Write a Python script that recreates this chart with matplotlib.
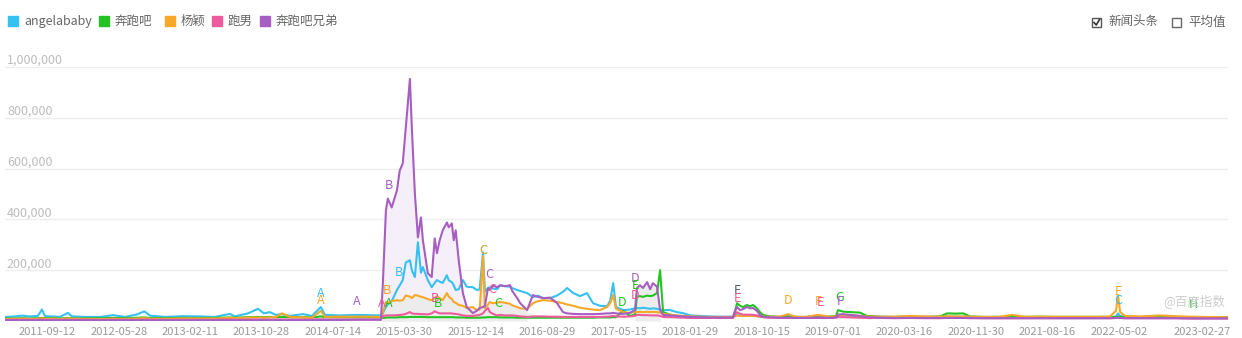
import matplotlib.pyplot as plt
from matplotlib.patches import Rectangle
from matplotlib.lines import Line2D
import numpy as np
import pandas as pd

plt.rcParams['font.family'] = ['Noto Sans CJK SC', 'DejaVu Sans']

# weekly-ish samples, values in thousands
dates = [
    '2011-04-12', '2011-05-18', '2011-06-12', '2011-07-11', '2011-08-09', '2011-08-24', '2011-09-04', '2011-09-29', '2011-10-28', '2011-11-26',
    '2011-12-11', '2012-01-28', '2012-03-22', '2012-05-08', '2012-06-21', '2012-08-03', '2012-08-29', '2012-09-19', '2012-11-13', '2013-01-13',
    '2013-03-19', '2013-05-12', '2013-07-05', '2013-07-23', '2013-09-09', '2013-10-15', '2013-11-06', '2013-11-27', '2013-12-19', '2014-01-10',
    '2014-02-08', '2014-03-27', '2014-04-29', '2014-05-31', '2014-06-15', '2014-08-08', '2014-10-09', '2014-11-25', '2015-01-04', '2015-01-11',
    '2015-01-22', '2015-01-29', '2015-02-12', '2015-03-03', '2015-03-13', '2015-03-24', '2015-04-04', '2015-04-19', '2015-04-26', '2015-05-07',
    '2015-05-18', '2015-05-29', '2015-06-05', '2015-06-23', '2015-07-07', '2015-07-18', '2015-07-26', '2015-08-05', '2015-08-16', '2015-08-31',
    '2015-09-07', '2015-09-18', '2015-09-25', '2015-10-02', '2015-10-13', '2015-10-28', '2015-11-11', '2015-12-03', '2015-12-17', '2015-12-28',
    '2016-01-09', '2016-01-16', '2016-01-27', '2016-02-03', '2016-02-14', '2016-02-29', '2016-03-11', '2016-03-29', '2016-04-16', '2016-04-23',
    '2016-05-12', '2016-05-23', '2016-06-17', '2016-07-08', '2016-07-26', '2016-08-14', '2016-09-08', '2016-10-03', '2016-10-25', '2016-11-09',
    '2016-12-01', '2016-12-26', '2017-01-20', '2017-02-11', '2017-03-08', '2017-04-03', '2017-04-14', '2017-04-25', '2017-05-05', '2017-05-31',
    '2017-06-25', '2017-07-13', '2017-07-20', '2017-07-31', '2017-08-11', '2017-08-26', '2017-09-06', '2017-09-16', '2017-10-01', '2017-10-12',
    '2017-10-23', '2017-11-17', '2017-12-12', '2018-01-03', '2018-01-29', '2018-03-06', '2018-04-11', '2018-05-17', '2018-07-03', '2018-07-11',
    '2018-07-18', '2018-07-29', '2018-08-09', '2018-08-23', '2018-09-03', '2018-09-14', '2018-09-28', '2018-10-09', '2018-10-20', '2018-11-15',
    '2018-12-21', '2019-01-19', '2019-02-13', '2019-03-22', '2019-05-08', '2019-06-20', '2019-07-12', '2019-07-19', '2019-08-06', '2019-09-01',
    '2019-10-07', '2019-11-01', '2019-12-18', '2020-02-11', '2020-04-06', '2020-05-30', '2020-07-23', '2020-08-18', '2020-09-16', '2020-10-15',
    '2020-11-09', '2021-01-02', '2021-02-25', '2021-04-10', '2021-05-27', '2021-07-20', '2021-09-13', '2021-11-06', '2021-12-31', '2022-02-23',
    '2022-03-31', '2022-04-22', '2022-04-29', '2022-05-07', '2022-05-25', '2022-07-18', '2022-09-29', '2022-11-22', '2023-01-15', '2023-03-11',
    '2023-05-04', '2023-06-02',
]

angelababy = [
    16, 18, 21, 18, 20, 45, 19, 18, 16, 32,
    18, 16, 16, 23, 16, 26, 38, 21, 16, 19,
    18, 16, 28, 18, 30, 48, 30, 35, 24, 27,
    20, 27, 20, 55, 24, 22, 24, 23, 22, 31,
    55, 65, 78, 122, 140, 161, 230, 239, 200, 173,
    310, 190, 212, 161, 133, 150, 161, 155, 150, 180,
    160, 153, 140, 122, 125, 161, 135, 133, 122, 125,
    270, 115, 130, 133, 128, 125, 140, 137, 135, 130,
    122, 118, 110, 94, 100, 90, 90, 100, 115, 130,
    110, 98, 110, 70, 60, 58, 80, 149, 55, 43,
    45, 50, 51, 50, 52, 50, 48, 50, 48, 45,
    43, 43, 35, 31, 22, 20, 18, 17, 17, 20,
    24, 22, 20, 20, 20, 20, 19, 18, 17, 17,
    16, 20, 16, 15, 16, 16, 18, 22, 22, 20,
    19, 18, 17, 16, 17, 16, 16, 18, 17, 17,
    16, 15, 15, 16, 15, 15, 15, 15, 15, 15,
    15, 18, 30, 20, 16, 15, 17, 16, 15, 14,
    14, 14,
]
benpaoba = [
    10, 10, 11, 10, 11, 12, 11, 11, 10, 12,
    11, 10, 11, 12, 11, 13, 14, 12, 11, 12,
    12, 12, 14, 13, 15, 16, 15, 16, 15, 16,
    15, 15, 14, 18, 15, 15, 15, 15, 14, 12,
    13, 14, 14, 14, 15, 15, 15, 16, 16, 16,
    16, 16, 16, 15, 15, 15, 15, 15, 15, 15,
    15, 15, 15, 14, 14, 14, 13, 13, 13, 13,
    14, 14, 15, 15, 15, 15, 14, 14, 14, 14,
    13, 13, 13, 13, 13, 13, 13, 13, 13, 13,
    13, 13, 13, 13, 14, 14, 14, 15, 15, 40,
    20, 25, 95, 98, 95, 100, 98, 100, 110, 200,
    35, 25, 20, 18, 16, 16, 15, 15, 15, 40,
    70, 60, 55, 63, 58, 63, 50, 35, 24, 18,
    16, 17, 16, 16, 17, 17, 20, 43, 37, 35,
    33, 20, 16, 16, 17, 16, 18, 30, 29, 30,
    18, 16, 16, 16, 16, 17, 16, 16, 16, 16,
    16, 16, 17, 16, 16, 16, 17, 16, 15, 15,
    14, 14,
]
yangying = [
    8, 8, 9, 8, 9, 10, 9, 9, 8, 10,
    9, 8, 8, 9, 8, 10, 11, 9, 9, 10,
    10, 10, 12, 11, 13, 14, 13, 14, 16, 30,
    16, 14, 13, 40, 16, 17, 17, 17, 16, 35,
    75, 70, 78, 82, 80, 82, 100, 96, 90, 102,
    100, 95, 94, 86, 82, 90, 98, 90, 82, 110,
    96, 86, 74, 72, 63, 60, 51, 55, 43, 45,
    255, 50, 65, 75, 70, 72, 75, 72, 68, 62,
    55, 50, 47, 70, 78, 82, 80, 75, 70, 65,
    60, 52, 48, 45, 43, 55, 70, 102, 48, 35,
    32, 35, 35, 36, 35, 36, 35, 36, 35, 33,
    28, 25, 22, 20, 18, 17, 16, 16, 16, 18,
    22, 20, 20, 20, 20, 20, 19, 18, 17, 17,
    17, 27, 17, 16, 24, 17, 18, 22, 24, 22,
    20, 18, 17, 17, 20, 18, 17, 19, 18, 18,
    17, 16, 17, 24, 17, 17, 17, 17, 17, 17,
    18, 40, 102, 35, 20, 18, 22, 19, 17, 16,
    15, 15,
]
paonan = [
    5, 5, 5, 5, 5, 6, 5, 5, 5, 5,
    5, 5, 5, 5, 5, 5, 6, 5, 5, 5,
    5, 5, 6, 5, 6, 6, 6, 6, 6, 6,
    6, 6, 6, 7, 6, 6, 6, 6, 6, 20,
    22, 22, 22, 23, 24, 25, 28, 35, 30, 28,
    28, 27, 27, 26, 30, 38, 34, 30, 30, 30,
    30, 30, 28, 28, 26, 22, 20, 20, 22, 24,
    30, 40, 51, 35, 28, 22, 24, 22, 22, 22,
    20, 18, 16, 18, 18, 18, 17, 17, 16, 16,
    16, 16, 16, 16, 16, 17, 18, 20, 18, 17,
    18, 20, 24, 24, 23, 23, 22, 22, 22, 20,
    16, 15, 14, 13, 12, 12, 12, 12, 12, 25,
    35, 28, 25, 25, 25, 24, 22, 18, 15, 13,
    12, 12, 12, 12, 14, 12, 13, 15, 15, 14,
    13, 12, 12, 11, 12, 11, 11, 12, 12, 12,
    11, 11, 11, 11, 11, 11, 11, 11, 11, 11,
    11, 12, 13, 12, 11, 11, 11, 11, 10, 10,
    10, 10,
]
benpaoba_xiongdi = [
    3, 3, 3, 3, 3, 3, 3, 3, 3, 3,
    3, 3, 3, 3, 3, 3, 3, 3, 3, 3,
    3, 3, 3, 3, 3, 3, 3, 3, 3, 3,
    3, 3, 3, 4, 4, 4, 5, 5, 5, 150,
    435, 482, 447, 514, 592, 620, 761, 953, 761, 502,
    329, 408, 318, 188, 173, 325, 267, 318, 357, 388,
    369, 384, 318, 357, 239, 110, 55, 31, 40, 51,
    55, 60, 129, 122, 140, 133, 141, 137, 141, 120,
    90, 70, 43, 102, 95, 90, 92, 71, 35, 30,
    28, 27, 27, 27, 28, 30, 30, 32, 30, 28,
    32, 43, 129, 141, 130, 153, 125, 149, 135, 43,
    24, 22, 20, 18, 16, 15, 14, 14, 14, 40,
    55, 43, 47, 55, 50, 51, 40, 24, 16, 14,
    13, 13, 12, 12, 12, 12, 14, 25, 27, 24,
    20, 15, 13, 12, 12, 12, 12, 12, 12, 12,
    12, 11, 11, 11, 11, 11, 11, 11, 11, 11,
    11, 12, 13, 12, 11, 11, 11, 11, 10, 10,
    10, 10,
]

names = ['angelababy', '奔跑吧', '杨颖', '跑男', '奔跑吧兄弟']
colors = ['#35c1f1', '#22c322', '#f8a829', '#ee5b9c', '#a75ec2']

tick_dates = ['2011-09-12', '2012-05-28', '2013-02-11', '2013-10-28', '2014-07-14',
              '2015-03-30', '2015-12-14', '2016-08-29', '2017-05-15', '2018-01-29',
              '2018-10-15', '2019-07-01', '2020-03-16', '2020-11-30', '2021-08-16',
              '2022-05-02', '2023-02-27']
y_ticks = [200000, 400000, 600000, 800000, 1000000]

# news event markers (letter, where, colour)
ann_dates = ['2014-05-31', '2014-05-31', '2014-10-09', '2015-01-08', '2015-02-02',
             '2015-02-02', '2015-03-10', '2015-01-26', '2015-07-18', '2015-07-29',
             '2016-01-10', '2016-01-09', '2016-01-31', '2016-02-11', '2016-03-03',
             '2017-05-27', '2017-07-13', '2017-07-16', '2017-07-13',
             '2018-07-20', '2018-07-18', '2019-01-19', '2019-05-08', '2019-05-15',
             '2019-07-23', '2019-07-26', '2022-04-29', '2022-04-29', '2023-01-26']
ann_values = [110, 82, 75, 67, 67, 533, 192, 122, 90, 67, 278, 278, 184, 125, 67,
              71, 169, 141, 102, 122, 90, 82, 78, 71, 94, 75, 118, 82, 63]
ann_letters = ['A', 'A', 'A', 'A', 'A', 'B', 'B', 'B', 'B', 'B', 'C', 'C', 'C', 'C', 'C',
               'D', 'D', 'E', 'D', 'E', 'E', 'D', 'F', 'E', 'G', 'F', 'F', 'C', 'H']
ann_colors = [colors[0], colors[2], colors[4], colors[3], colors[1],
              colors[4], colors[0], colors[2], colors[3], colors[1],
              colors[0], colors[2], colors[4], colors[3], colors[1],
              colors[1], colors[4], colors[1], colors[3],
              '#4e5d6c', colors[3], colors[2], colors[2], colors[3],
              colors[1], colors[4], colors[2], colors[0], colors[1]]

x = pd.to_datetime(dates)
series = [np.array(s) * 1000 for s in (angelababy, benpaoba, yangying, paonan, benpaoba_xiongdi)]

W, H = 1242, 338
fig = plt.figure(figsize=(W / 100, H / 100), dpi=100)
ax = fig.add_axes([5 / W, 17 / H, 1223 / W, 254 / H])
ax.set_xlim(pd.Timestamp('2011-04-12'), pd.Timestamp('2023-06-02'))
ax.set_ylim(0, 1000000)
for sp in ax.spines.values():
    sp.set_visible(False)

ax.set_yticks(y_ticks)
ax.set_yticklabels([])
ax.tick_params(axis='y', length=0)
ax.grid(axis='y', color='#eeeeee', lw=1)
ax.set_axisbelow(True)
for v in y_ticks:
    ax.annotate(f'{v:,}', xy=(0.0016, v), xycoords=('axes fraction', 'data'),
                xytext=(0, 3), textcoords='offset pixels', va='baseline', ha='left',
                fontsize=9, color='#bdbdbd')

ax.set_xticks(pd.to_datetime(tick_dates))
ax.set_xticklabels(tick_dates)
ax.tick_params(axis='x', length=0, pad=4, labelsize=8, labelcolor='#999999')

# shaded areas
m1 = (x >= pd.Timestamp('2015-01-04')) & (x <= pd.Timestamp('2015-12-03'))
ax.fill_between(x, 0, series[4], where=m1, color='#f4eff8', lw=0, zorder=1)
m2 = (x >= pd.Timestamp('2015-01-04')) & (x <= pd.Timestamp('2016-06-17'))
ax.fill_between(x, 0, series[2], where=m2, color='#ececec', lw=0, zorder=1)
m3 = (x >= pd.Timestamp('2017-07-13')) & (x <= pd.Timestamp('2017-10-12'))
ax.fill_between(x, 0, series[4], where=m3, color='#ececec', lw=0, zorder=1)

for s, c in zip(series, colors):
    ax.plot(x, s, color=c, lw=1.5, zorder=3)

for d, v, t, c in zip(ann_dates, ann_values, ann_letters, ann_colors):
    ax.text(pd.Timestamp(d), v * 1000, t, color=c, ha='center', va='center',
            fontsize=9, zorder=4)

# legend, drawn by hand like the original page
leg_sq = [8, 99, 165, 212, 260]
leg_tx = [24, 115, 181, 228, 276]
for sx, tx, n, c in zip(leg_sq, leg_tx, names, colors):
    fig.add_artist(Rectangle((sx / W, 1 - 26 / H), 10 / W, 10 / H, color=c,
                             transform=fig.transFigure))
    fig.text(tx / W, 1 - 21 / H, n, color='#666666', fontsize=9, va='center', ha='left')

# checkboxes on the right
fig.add_artist(Rectangle((1092 / W, 1 - 27 / H), 9 / W, 9 / H, fill=False,
                         edgecolor='#555555', lw=1, transform=fig.transFigure))
fig.add_artist(Line2D([1094 / W, 1096.3 / W, 1099.5 / W],
                      [1 - 22.5 / H, 1 - 25 / H, 1 - 19.5 / H],
                      color='#333333', lw=1.2, transform=fig.transFigure))
fig.text(1108 / W, 1 - 22 / H, '新闻头条', color='#666666', fontsize=9, va='center')
fig.add_artist(Rectangle((1172 / W, 1 - 27 / H), 9 / W, 9 / H, fill=False,
                         edgecolor='#666666', lw=1, transform=fig.transFigure))
fig.text(1188 / W, 1 - 22 / H, '平均值', color='#666666', fontsize=9, va='center')

fig.text(1163 / W, 1 - 302 / H, '@百度指数', color='#cccccc', fontsize=9, va='center')

plt.savefig('out.png', dpi=100)
